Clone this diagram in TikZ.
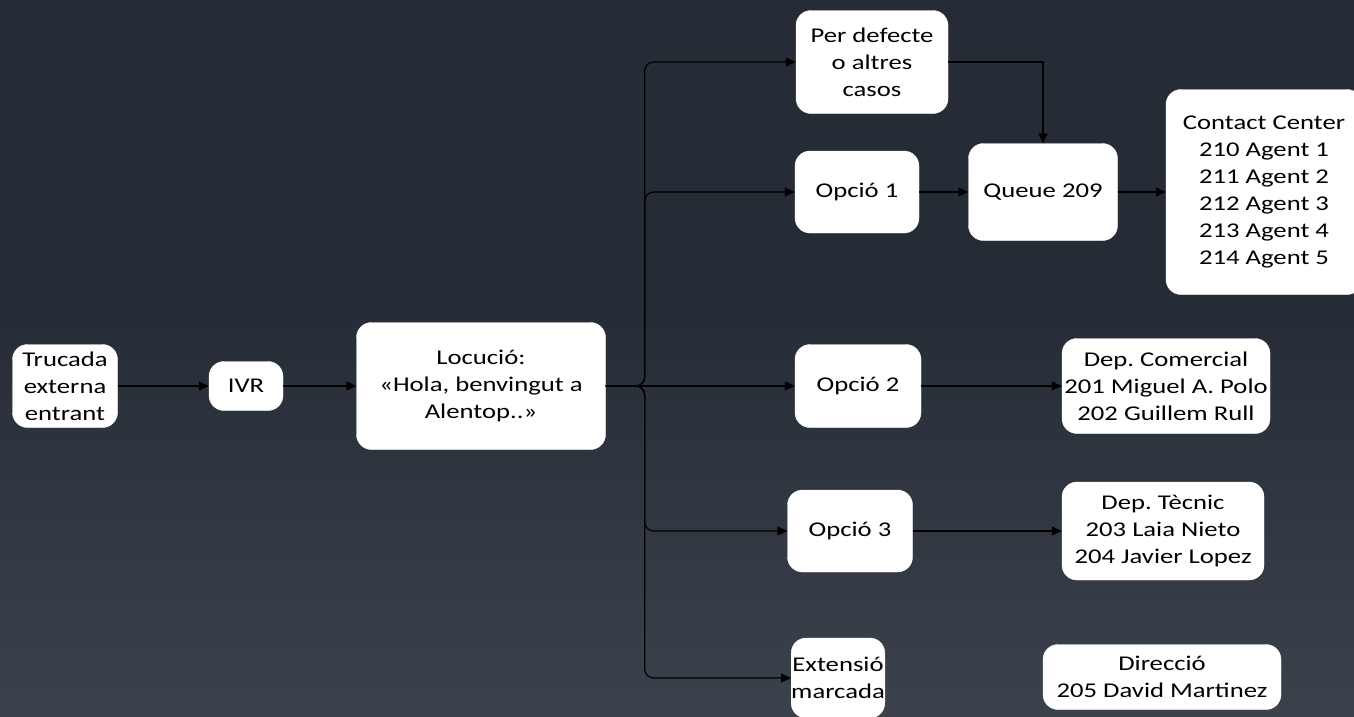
\documentclass[tikz,border=0pt]{standalone}
\usepackage{fontspec}
\setmainfont{Carlito}[FakeStretch=1.27]
\usetikzlibrary{arrows.meta}
\definecolor{bgtop}{RGB}{37,44,53}
\definecolor{bgbot}{RGB}{59,66,76}
\tikzset{
  box/.style={draw=white, fill=white, rounded corners=15pt, align=center, inner sep=0pt, text=black,
    font=\fontsize{21}{27}\selectfont\frenchspacing},
  arr/.style={draw=black, line width=1.2pt, -{Triangle[length=10pt,width=9pt]}},
  bus/.style={arr, rounded corners=9pt}
}
\begin{document}
\begin{tikzpicture}[x=1pt,y=-1pt]
\useasboundingbox (0,0) rectangle (1354,716);
\fill[bgtop] (0,0) rectangle (1354,300);
\shade[top color=bgtop, bottom color=bgbot] (0,299) rectangle (1354,716);

\node[box, minimum width=105pt, minimum height=83pt] (call) at (65,386) {Trucada\\externa\\entrant};
\node[box, minimum width=74pt, minimum height=49pt] (ivr) at (246,386) {IVR};
\node[box, minimum width=249pt, minimum height=127pt] (loc) at (481,386) {Locució:\\«Hola, benvingut a\\Alentop..»};
\node[box, minimum width=152pt, minimum height=103pt] (def) at (872,62) {Per defecte\\o altres\\casos};
\node[box, minimum width=124pt, minimum height=82pt] (op1) at (857,192) {Opció 1};
\node[box, minimum width=149pt, minimum height=97pt] (queue) at (1043,192) {Queue 209};
\node[box, minimum width=196pt, minimum height=205pt] (cc) at (1264,192) {Contact Center\\210 Agent 1\\211 Agent 2\\212 Agent 3\\213 Agent 4\\214 Agent 5};
\node[box, minimum width=126pt, minimum height=83pt] (op2) at (858,386) {Opció 2};
\node[box, minimum width=208pt, minimum height=95pt] (com) at (1166,386) {Dep. Comercial\\201 Miguel A. Polo\\202 Guillem Rull};
\node[box, minimum width=125pt, minimum height=82pt] (op3) at (850,531) {Opció 3};
\node[box, minimum width=202pt, minimum height=98pt] (tec) at (1163,531) {Dep. Tècnic\\203 Laia Nieto\\204 Javier Lopez};
\node[box, minimum width=93pt, minimum height=80pt] (ext) at (838,678) {Extensió\\marcada};
\node[box, minimum width=238pt, minimum height=65pt] (dir) at (1162,677) {Direcció\\205 David Martinez};

\draw[arr] (call) -- (ivr);
\draw[arr] (ivr) -- (loc);
\draw[bus] (loc.east) -- ++(39,0) |- (def.west);
\draw[bus] (loc.east) -- ++(39,0) |- (op1.west);
\draw[bus] (loc.east) -- (op2.west);
\draw[bus] (loc.east) -- ++(39,0) |- (op3.west);
\draw[bus] (loc.east) -- ++(39,0) |- (ext.west);
\draw[arr] (def.east) -| (queue.north);
\draw[arr] (op1) -- (queue);
\draw[arr] (queue) -- (cc);
\draw[arr] (op2) -- (com);
\draw[arr] (op3) -- (tec);
\end{tikzpicture}
\end{document}
